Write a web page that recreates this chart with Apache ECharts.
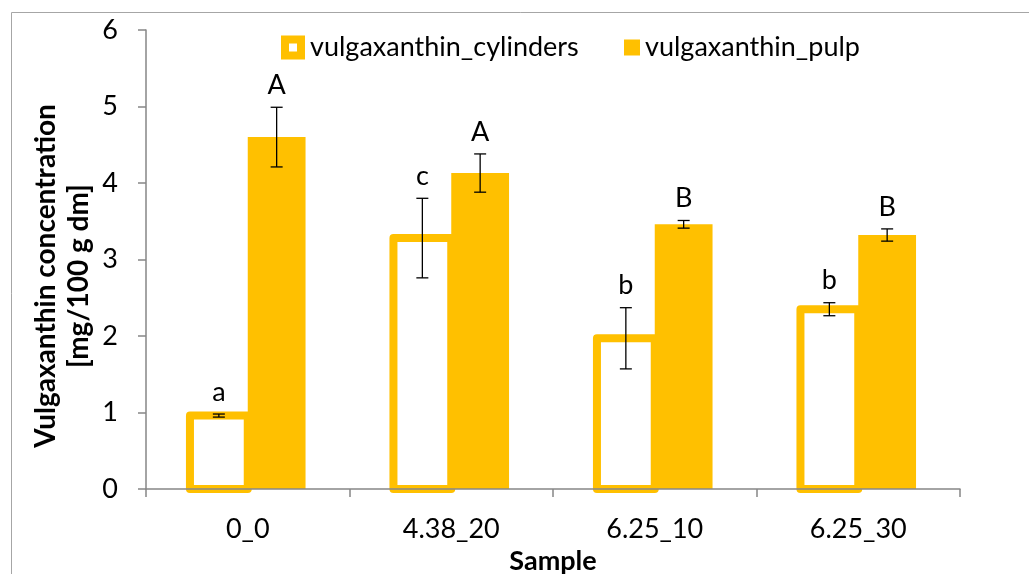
<!DOCTYPE html>
<html>
<head>
<meta charset="utf-8">
<script src="https://cdn.jsdelivr.net/npm/echarts@6/dist/echarts.min.js"></script>
<style>
html,body{margin:0;padding:0;background:#fff;}
#c{width:1029px;height:574px;}
</style>
</head>
<body>
<div id="c"></div>
<script>
const categories = ['0_0', '4.38_20', '6.25_10', '6.25_30'];
const cylindersMean = [0.96, 3.28, 1.97, 2.35];
const cylindersErr = [0.02, 0.52, 0.40, 0.085];
const cylindersLetters = ['a', 'c', 'b', 'b'];
const pulpMean = [4.60, 4.13, 3.46, 3.32];
const pulpErr = [0.39, 0.25, 0.05, 0.08];
const pulpLetters = ['A', 'A', 'B', 'B'];
const yTicks = [0, 1, 2, 3, 4, 5, 6];
const yTitle = 'Vulgaxanthin concentration\n[mg/100 g dm]';
const xTitle = 'Sample';

const ORANGE = '#FFC000';
const AXIS = '#868686';
const FONT = 'Lato, "Open Sans", sans-serif';
const BAR_FRAC = 0.284;

function barRender(sign, filled) {
  return function (params, api) {
    const i = api.value(0), v = api.value(1);
    const bw = api.size([1, 0])[0] * BAR_FRAC;
    const c = api.coord([i, v]);
    const base = api.coord([i, 0]);
    const x = sign < 0 ? c[0] - bw : c[0];
    return {
      type: 'rect',
      shape: { x: x, y: c[1], width: bw, height: base[1] - c[1] },
      style: filled
        ? { fill: ORANGE }
        : { fill: '#fff', stroke: ORANGE, lineWidth: 8, lineJoin: 'round' }
    };
  };
}

function errRender(sign, letters) {
  return function (params, api) {
    const i = api.value(0), mean = api.value(1), err = api.value(2);
    const bw = api.size([1, 0])[0] * BAR_FRAC;
    const x = api.coord([i, mean])[0] + sign * bw / 2;
    const yTop = api.coord([i, mean + err])[1];
    const yBot = api.coord([i, mean - err])[1];
    const cap = 6;
    const st = { stroke: '#000', lineWidth: 1.3 };
    return {
      type: 'group',
      children: [
        { type: 'line', shape: { x1: x, y1: yTop, x2: x, y2: yBot }, style: st },
        { type: 'line', shape: { x1: x - cap, y1: yTop, x2: x + cap, y2: yTop }, style: st },
        { type: 'line', shape: { x1: x - cap, y1: yBot, x2: x + cap, y2: yBot }, style: st },
        { type: 'text', x: x, y: yTop - 22, style: { text: letters[i], fill: '#000', font: '27px ' + FONT, align: 'center', verticalAlign: 'middle' } }
      ]
    };
  };
}

const chart = echarts.init(document.getElementById('c'), null, { renderer: 'canvas' });
const legendText = { fontSize: 27, color: '#000', fontFamily: FONT };
chart.setOption({
  animation: false,
  backgroundColor: '#fff',
  textStyle: { fontFamily: FONT },
  graphic: [
    {
      type: 'rect', left: 9, top: 10, shape: { width: 1100, height: 700 },
      style: { fill: 'none', stroke: '#a6a6a6', lineWidth: 1 }, silent: true, z: -10
    },
    {
      type: 'text', x: 62, y: 276, rotation: Math.PI / 2, silent: true,
      style: { text: yTitle, fill: '#000', font: 'bold 28px ' + FONT, align: 'center', verticalAlign: 'middle', lineHeight: 33 }
    }
  ],
  legend: [
    {
      left: 276, top: 29, itemWidth: 24, itemHeight: 24,
      textStyle: legendText,
      data: [{ name: 'vulgaxanthin_cylinders', icon: 'path://M0,0H24V24H0Z M8,8V16H16V8Z', itemStyle: { color: ORANGE, borderWidth: 0 } }]
    },
    {
      left: 619, top: 29, itemWidth: 16, itemHeight: 16,
      textStyle: legendText,
      data: [{ name: 'vulgaxanthin_pulp', icon: 'rect', itemStyle: { color: ORANGE, borderWidth: 0 } }]
    }
  ],
  grid: { left: 146, right: 69, top: 30, bottom: 85, outerBoundsMode: 'none', containLabel: false },
  xAxis: {
    type: 'category',
    data: categories,
    name: xTitle,
    nameLocation: 'middle',
    nameGap: 54,
    nameTextStyle: { fontSize: 27, fontWeight: 'bold', color: '#000', fontFamily: FONT },
    axisLine: { lineStyle: { color: AXIS, width: 1.5 } },
    axisTick: { show: true, length: 8, lineStyle: { color: AXIS, width: 1.5 } },
    axisLabel: { fontSize: 27, color: '#000', margin: 27, fontFamily: FONT },
    z: 5
  },
  yAxis: {
    type: 'value',
    min: yTicks[0], max: yTicks[yTicks.length - 1], interval: 1,
    axisLine: { show: true, lineStyle: { color: AXIS, width: 1.5 } },
    axisTick: { show: true, length: 8, lineStyle: { color: AXIS, width: 1.5 } },
    axisLabel: { fontSize: 27, color: '#000', margin: 28, fontFamily: FONT },
    splitLine: { show: false }
  },
  series: [
    {
      name: 'vulgaxanthin_cylinders', type: 'custom', z: 2,
      itemStyle: { color: ORANGE },
      data: cylindersMean.map((v, i) => [i, v]),
      renderItem: barRender(-1, false)
    },
    {
      name: 'vulgaxanthin_pulp', type: 'custom', z: 3,
      itemStyle: { color: ORANGE },
      data: pulpMean.map((v, i) => [i, v]),
      renderItem: barRender(1, true)
    },
    {
      name: 'err_cyl', type: 'custom', z: 10,
      data: cylindersMean.map((v, i) => [i, v, cylindersErr[i]]),
      renderItem: errRender(-1, cylindersLetters)
    },
    {
      name: 'err_pulp', type: 'custom', z: 10,
      data: pulpMean.map((v, i) => [i, v, pulpErr[i]]),
      renderItem: errRender(1, pulpLetters)
    }
  ]
});
</script>
</body>
</html>
